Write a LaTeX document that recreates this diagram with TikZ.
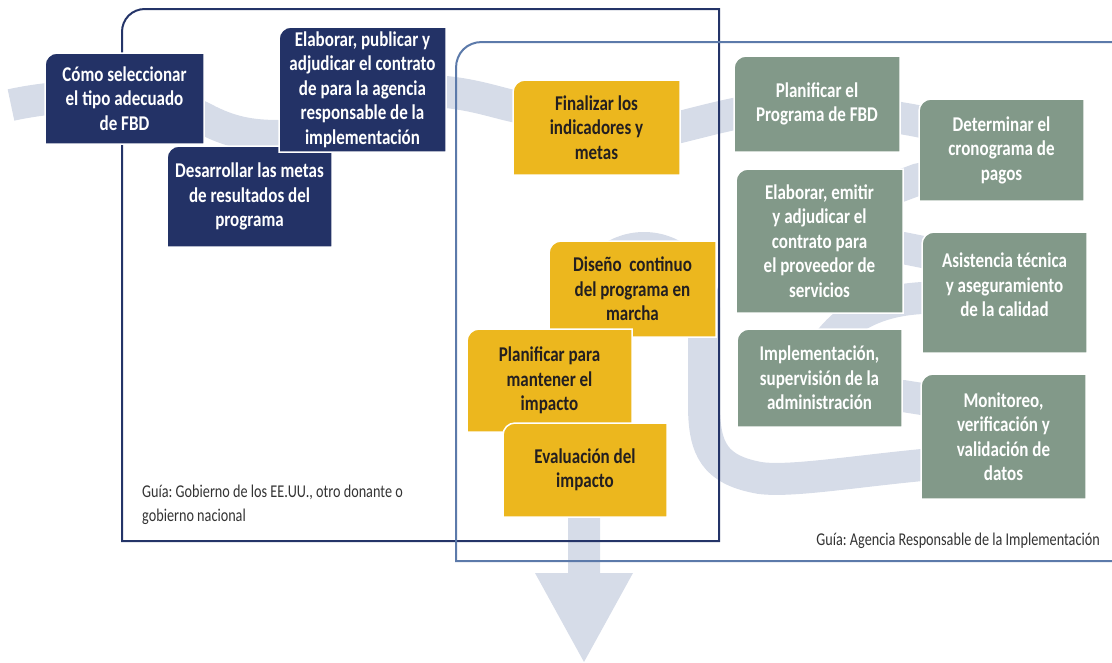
\documentclass[tikz,border=0pt]{standalone}
\usepackage{fontspec}
\setmainfont{Carlito}[FakeStretch=0.81]
\newfontfamily\guiafont{Carlito}[FakeStretch=0.79]
\frenchspacing

\definecolor{fbdnavy}{RGB}{35,50,102}
\definecolor{fbdyellow}{RGB}{236,183,30}
\definecolor{fbdgreen}{RGB}{130,153,137}
\definecolor{fbdribbon}{RGB}{214,220,232}
\definecolor{fbdframe}{RGB}{36,52,104}
\definecolor{fbdsteel}{RGB}{92,122,170}
\definecolor{fbdink}{RGB}{35,31,32}
\definecolor{fbdgray}{RGB}{51,51,51}

% card outline: style, left, top, right, bottom (top-left corner rounded)
\newcommand{\cardshape}[5]{%
  \filldraw[#1] (#2,#5) -- (#2,{#3+12}) .. controls (#2,{#3+5.4}) and ({#2+5.4},#3) .. ({#2+12},#3) -- (#4,#3) -- (#4,#5) -- cycle;}

\tikzset{
  card/.style={align=center, inner sep=0pt, font=\bfseries\fontsize{21}{24.5}\selectfont},
  navycard/.style={fill=fbdnavy, draw=white, line width=1.5pt},
  yellowcard/.style={fill=fbdyellow, draw=white, line width=1.5pt},
  greencard/.style={fill=fbdgreen, draw=white, line width=1.5pt},
  ribbon/.style={draw=fbdribbon, line width=32pt, line join=round},
  guia/.style={font=\guiafont\fontsize{18}{24}\selectfont, text=fbdgray, inner sep=0pt, align=left},
}

\begin{document}
\begin{tikzpicture}[x=1pt,y=-1pt]
	\useasboundingbox (0,0) rectangle (1112,662);

	% ribbon behind everything
	\draw[ribbon] (11,105) .. controls (80,90) and (160,95) .. (205,119)
		.. controls (230,132) and (250,136) .. (279,136)
		.. controls (350,136) and (390,88) .. (446,92)
		.. controls (475,95) and (495,102) .. (513,106)
		.. controls (580,122) and (620,140) .. (680,127)
		.. controls (700,122) and (715,118) .. (734,114)
		.. controls (790,102) and (860,110) .. (900,118)
		.. controls (1010,135) and (1010,175) .. (919,179)
		-- (903,185)
		.. controls (820,215) and (820,240) .. (903,248)
		-- (923,252)
		.. controls (1000,265) and (1000,290) .. (923,298)
		.. controls (880,300) and (850,315) .. (830,340)
		.. controls (814,360) and (840,395) .. (903,396)
		-- (922,399)
		.. controls (1000,410) and (1000,458) .. (922,465)
		.. controls (850,472) and (790,482) .. (760,478)
		.. controls (715,470) and (704,450) .. (704,405)
		-- (704,308)
		.. controls (704,275) and (677,248) .. (644,248)
		.. controls (611,248) and (584,275) .. (584,308)
		-- (584,574);
	\fill[fbdribbon] (535,573) -- (633,573) -- (584,662) -- cycle;

	% frames
	\draw[fbdframe, line width=2pt] (719,541) -- (122,541) -- (122,32) .. controls (122,19) and (132,9) .. (145,9) -- (719,9) -- cycle;
	\draw[fbdsteel, line width=2pt] (1113,561) -- (456,561) -- (456,68) .. controls (456,53) and (467,42) .. (482,42) -- (1113,42);

	% guide captions
	\node[guia, anchor=north west] (guiagobierno) at (142,485) {Guía: Gobierno de los EE.UU., otro donante o\\gobierno nacional};
	\node[guia, anchor=base east] (guiaagencia) at (1100,545) {Guía: Agencia Responsable de la Implementación};

	% donor steps
	\cardshape{navycard}{45}{53}{204}{144}
	\node[card, text=white] (seleccionar) at (124.5,98.5) {Cómo seleccionar\\el tipo adecuado\\de FBD};
	\cardshape{navycard}{167}{146}{332}{247}
	\node[card, text=white] (desarrollar) at (249.5,196.5) {Desarrollar las metas\\de resultados del\\programa};
	\cardshape{navycard}{279}{27}{446}{152}
	\node[card, text=white] (adjudicar) at (362.5,89.5) {Elaborar, publicar y\\adjudicar el contrato\\de para la agencia\\responsable de la\\implementación};

	% shared steps
	\cardshape{yellowcard}{513}{80}{680}{175}
	\node[card, text=fbdink] (finalizar) at (596.5,127.5) {Finalizar los\\indicadores y\\metas};
	\cardshape{yellowcard}{549}{241}{716}{337}
	\node[card, text=fbdink] (diseno) at (632.5,289) {Diseño\ \ continuo\\del programa en\\marcha};
	\cardshape{yellowcard}{467}{329}{632}{432}
	\node[card, text=fbdink] (mantener) at (549.5,380.5) {Planificar para\\mantener el\\impacto};
	\cardshape{yellowcard}{503}{423}{667}{517}
	\node[card, text=fbdink] (evaluacion) at (585,470) {Evaluación del\\impacto};

	% agency steps
	\cardshape{greencard}{734}{56}{900}{152}
	\node[card, text=white] (planificar) at (817,104) {Planificar el\\Programa de FBD};
	\cardshape{greencard}{919}{99}{1084}{201}
	\node[card, text=white] (cronograma) at (1001.5,150) {Determinar el\\cronograma de\\pagos};
	\cardshape{greencard}{736}{169}{903}{313}
	\node[card, text=white] (proveedor) at (819.5,241) {Elaborar, emitir\\y adjudicar el\\contrato para\\el proveedor de\\servicios};
	\cardshape{greencard}{922}{232}{1087}{353}
	\node[card, text=white] (asistencia) at (1004.5,285) {Asistencia técnica\\y aseguramiento\\de la calidad};
	\cardshape{greencard}{737}{329}{902}{427}
	\node[card, text=white] (implementacion) at (819.5,378) {Implementación,\\supervisión de la\\administración};
	\cardshape{greencard}{921}{374}{1086}{499}
	\node[card, text=white] (monitoreo) at (1003.5,436.5) {Monitoreo,\\verificación y\\validación de\\datos};
\end{tikzpicture}
\end{document}
